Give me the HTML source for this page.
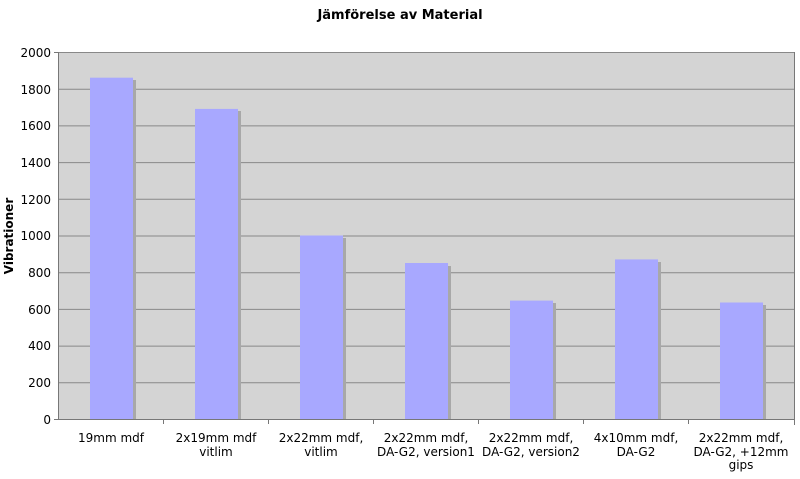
<!DOCTYPE html>
<html><head><style>body{margin:0;background:#fff}svg text{font-family:"DejaVu Sans","Liberation Sans",sans-serif}</style></head><body>
<svg width="800" height="474" xmlns="http://www.w3.org/2000/svg">
<text x="400" y="19" text-anchor="middle" font-size="13" font-weight="bold">Jämförelse av Material</text>
<rect x="58" y="52" width="736" height="367" fill="#d4d4d4"/>
<g stroke="#888" stroke-width="1">
<line x1="58" x2="794" y1="52.5" y2="52.5"/><line x1="58" x2="794" y1="89.2" y2="89.2"/><line x1="58" x2="794" y1="125.9" y2="125.9"/><line x1="58" x2="794" y1="162.6" y2="162.6"/><line x1="58" x2="794" y1="199.3" y2="199.3"/><line x1="58" x2="794" y1="236" y2="236"/><line x1="58" x2="794" y1="272.7" y2="272.7"/><line x1="58" x2="794" y1="309.4" y2="309.4"/><line x1="58" x2="794" y1="346.1" y2="346.1"/><line x1="58" x2="794" y1="382.8" y2="382.8"/>
</g>
<g fill="#a8a8a8">
<rect x="93" y="80" width="43" height="339"/><rect x="198" y="111" width="43" height="308"/><rect x="303" y="238" width="43" height="181"/><rect x="408" y="266" width="43" height="153"/><rect x="513" y="303" width="43" height="116"/><rect x="618" y="262" width="43" height="157"/><rect x="723" y="305" width="43" height="114"/>
</g>
<g fill="#a8a8ff">
<rect x="90" y="77.7" width="43" height="341.3"/><rect x="195" y="108.9" width="43" height="310.1"/><rect x="300" y="235.5" width="43" height="183.5"/><rect x="405" y="263" width="43" height="156"/><rect x="510" y="300.6" width="43" height="118.4"/><rect x="615" y="259.4" width="43" height="159.6"/><rect x="720" y="302.5" width="43" height="116.5"/>
</g>
<g stroke="#777" stroke-width="1">
<line x1="58.5" x2="58.5" y1="52" y2="420"/><line x1="54" x2="794" y1="419.5" y2="419.5"/><line x1="794.5" x2="794.5" y1="52" y2="425"/>
<line x1="163.5" x2="163.5" y1="419" y2="424"/><line x1="268.5" x2="268.5" y1="419" y2="424"/><line x1="373.5" x2="373.5" y1="419" y2="424"/><line x1="478.5" x2="478.5" y1="419" y2="424"/><line x1="583.5" x2="583.5" y1="419" y2="424"/><line x1="688.5" x2="688.5" y1="419" y2="424"/>
<line x1="54" x2="58" y1="52.5" y2="52.5"/>
</g>
<g font-size="12" text-anchor="end">
<text x="51" y="57">2000</text><text x="51" y="94">1800</text><text x="51" y="130">1600</text><text x="51" y="167">1400</text><text x="51" y="204">1200</text><text x="51" y="240">1000</text><text x="51" y="277">800</text><text x="51" y="314">600</text><text x="51" y="350">400</text><text x="51" y="387">200</text><text x="51" y="424">0</text>
</g>
<text transform="translate(13,236) rotate(-90)" text-anchor="middle" font-size="12" font-weight="bold">Vibrationer</text>
<g font-size="12" text-anchor="middle">
<text x="111" y="442">19mm mdf</text>
<text x="216" y="442">2x19mm mdf</text><text x="216" y="456">vitlim</text>
<text x="321" y="442">2x22mm mdf,</text><text x="321" y="456">vitlim</text>
<text x="426" y="442">2x22mm mdf,</text><text x="426" y="456">DA-G2, version1</text>
<text x="531" y="442">2x22mm mdf,</text><text x="531" y="456">DA-G2, version2</text>
<text x="636" y="442">4x10mm mdf,</text><text x="636" y="456">DA-G2</text>
<text x="741" y="442">2x22mm mdf,</text><text x="741" y="456">DA-G2, +12mm</text><text x="741" y="469">gips</text>
</g>
</svg>
</body></html>
